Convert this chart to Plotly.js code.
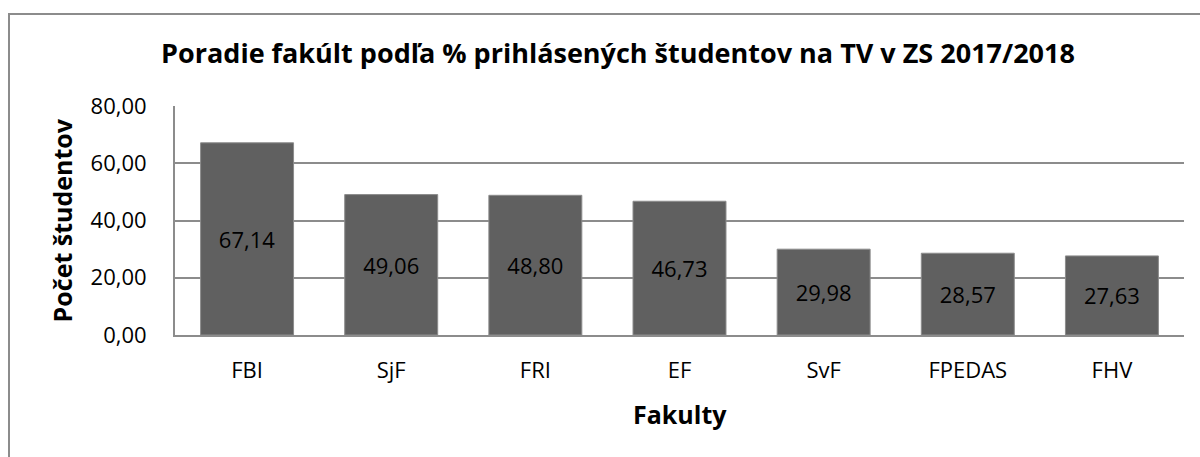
<!DOCTYPE html>
<html>
<head>
<meta charset="utf-8">
<script src="https://cdn.plot.ly/plotly-3.0.1.min.js"></script>
<style>
html,body{margin:0;padding:0;overflow:hidden;background:#fff;}
#wrap{position:relative;width:1200px;height:457px;overflow:hidden;}
#chart{width:1200px;height:457px;}
#frame{position:absolute;left:8px;top:13px;width:1300px;height:600px;border:2px solid #8c8c8c;pointer-events:none;}
</style>
</head>
<body>
<div id="wrap"><div id="chart"></div><div id="frame"></div></div>
<script>
const categories = ["FBI","SjF","FRI","EF","SvF","FPEDAS","FHV"];
const values = [67.14, 49.06, 48.80, 46.73, 29.98, 28.57, 27.63];
const yTicks = [0, 20, 40, 60, 80];

const font = "'Open Sans', sans-serif";

const trace = {
  type: 'bar',
  x: categories,
  y: values,
  marker: {color: '#606060', line: {color: '#8c8c8c', width: 1}},
  width: 0.645,
  texttemplate: '%{y:.2f}',
  textposition: 'inside',
  insidetextanchor: 'middle',
  textangle: 0,
  textfont: {family: font, size: 22, color: '#000'},
  hoverinfo: 'none'
};

const layout = {
  width: 1200, height: 457,
  margin: {l: 175, r: 16, t: 106, b: 122},
  separators: ', ',
  paper_bgcolor: '#fff',
  plot_bgcolor: '#fff',
  showlegend: false,
  font: {family: font, color: '#000'},
  title: {
    text: 'Poradie fakúlt podľa % prihlásených študentov na TV v ZS 2017/2018',
    font: {family: font, size: 27, color: '#000', weight: 'bold'},
    x: 618/1200, xanchor: 'center', xref: 'container',
    y: 1 - 54/457, yanchor: 'middle', yref: 'container'
  },
  xaxis: {
    type: 'category',
    showline: true, linecolor: '#8c8c8c', linewidth: 2,
    showgrid: false, ticks: '', ticklabelstandoff: 15,
    tickfont: {family: font, size: 22, color: '#000'},
    fixedrange: true
  },
  yaxis: {
    range: [0, 80],
    tickvals: yTicks,
    tickformat: '.2f',
    showline: true, linecolor: '#8c8c8c', linewidth: 2,
    showgrid: true, gridcolor: '#8c8c8c', gridwidth: 2,
    zeroline: false,
    ticks: '', ticklabelstandoff: 22,
    tickfont: {family: font, size: 22, color: '#000'},
    fixedrange: true
  },
  annotations: [
    {text: 'Fakulty', xref: 'paper', yref: 'paper', x: 0.5, y: -(414-335)/229,
     xanchor: 'center', yanchor: 'middle', showarrow: false,
     font: {family: font, size: 25, color: '#000', weight: 'bold'}},
    {text: 'Počet študentov', xref: 'paper', yref: 'paper', x: (62-175)/1008, y: 0.5,
     xanchor: 'center', yanchor: 'middle', textangle: -90, showarrow: false,
     font: {family: font, size: 25, color: '#000', weight: 'bold'}}
  ]
};

Plotly.newPlot('chart', [trace], layout, {displayModeBar: false, staticPlot: true});
</script>
</body>
</html>
